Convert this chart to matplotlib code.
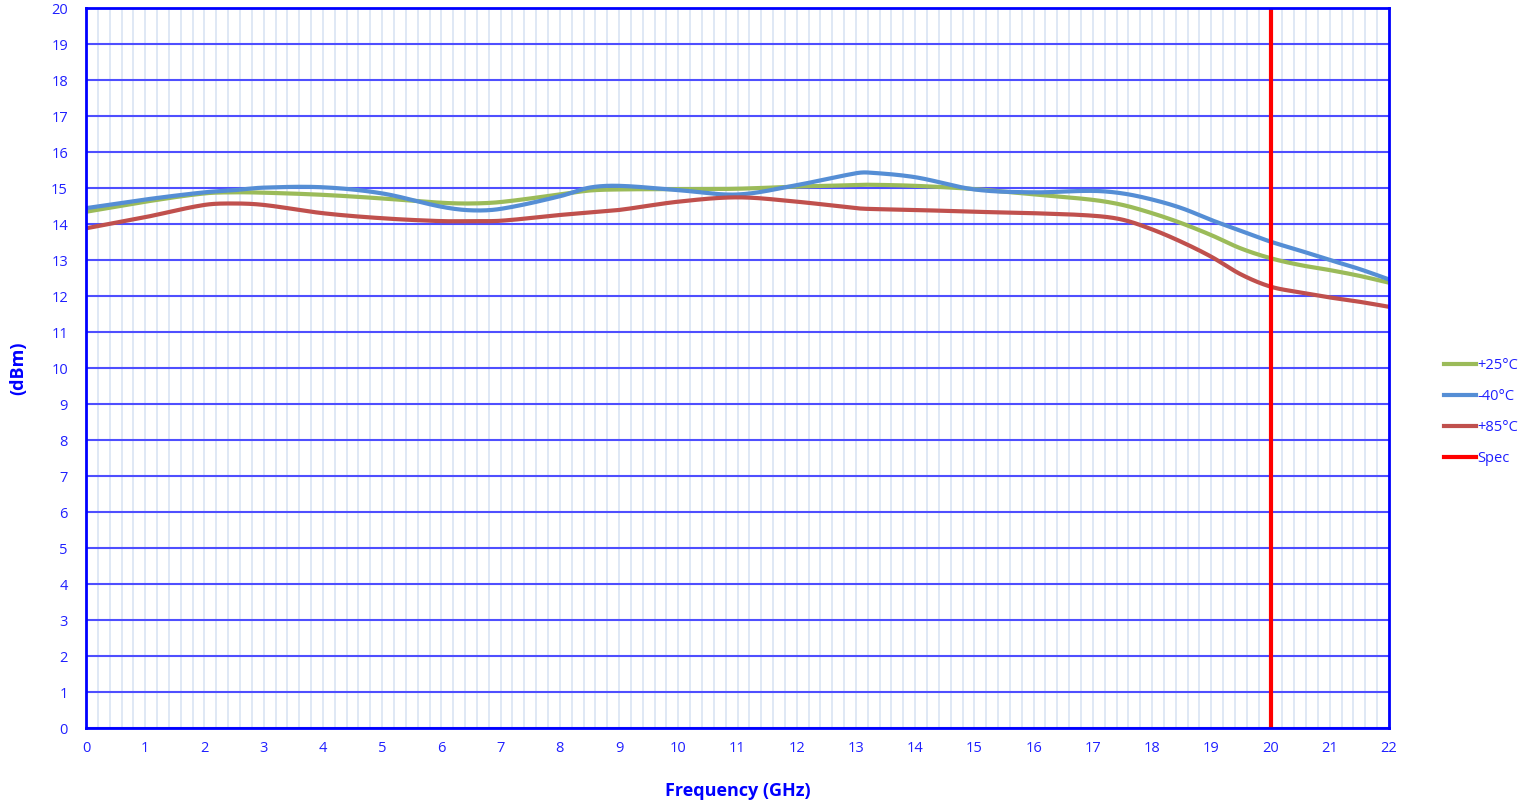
import numpy as np
import matplotlib
matplotlib.use("Agg")
import matplotlib.pyplot as plt
from matplotlib.lines import Line2D

freq = [0, 1, 2, 2.5, 3, 4, 5, 6, 6.5, 7, 8, 8.5, 9, 10, 11, 12, 13, 13.2, 14, 15, 16, 17, 17.5, 18, 18.5, 19, 19.5, 20, 20.5, 21, 21.5, 22]
p25 = [14.34, 14.62, 14.85, 14.88, 14.87, 14.81, 14.71, 14.59, 14.57, 14.61, 14.82, 14.93, 14.96, 14.97, 14.98, 15.04, 15.08, 15.09, 15.06, 14.97, 14.82, 14.67, 14.53, 14.30, 14.02, 13.69, 13.32, 13.05, 12.86, 12.72, 12.56, 12.37]
m40 = [14.44, 14.68, 14.88, 14.94, 15.01, 15.02, 14.85, 14.48, 14.38, 14.42, 14.77, 15.01, 15.06, 14.94, 14.82, 15.08, 15.41, 15.43, 15.30, 14.96, 14.88, 14.92, 14.85, 14.68, 14.44, 14.11, 13.81, 13.51, 13.26, 13.00, 12.75, 12.46]
p85 = [13.88, 14.19, 14.53, 14.57, 14.53, 14.30, 14.16, 14.08, 14.08, 14.09, 14.25, 14.32, 14.39, 14.62, 14.74, 14.62, 14.44, 14.42, 14.39, 14.34, 14.30, 14.23, 14.12, 13.85, 13.50, 13.09, 12.60, 12.26, 12.10, 11.96, 11.84, 11.70]
spec_freq = 20
series_names = ["+25°C", "-40°C", "+85°C", "Spec"]
colors = ["#9bbb59", "#558ed5", "#c0504d", "#ff0000"]


def smooth(x, y, n=25):
    """Cubic Hermite rendering of a smoothed line through the data points."""
    x = np.asarray(x, float); y = np.asarray(y, float)
    m = np.zeros_like(y)
    m[1:-1] = (y[2:] - y[:-2]) / (x[2:] - x[:-2])
    m[0] = (y[1] - y[0]) / (x[1] - x[0])
    m[-1] = (y[-1] - y[-2]) / (x[-1] - x[-2])
    xs, ys = [], []
    for i in range(len(x) - 1):
        h = x[i + 1] - x[i]
        t = np.linspace(0, 1, n, endpoint=False)
        h00 = 2 * t**3 - 3 * t**2 + 1
        h10 = t**3 - 2 * t**2 + t
        h01 = -2 * t**3 + 3 * t**2
        h11 = t**3 - t**2
        xs.append(x[i] + t * h)
        ys.append(h00 * y[i] + h10 * h * m[i] + h01 * y[i + 1] + h11 * h * m[i + 1])
    xs.append([x[-1]]); ys.append([y[-1]])
    return np.concatenate(xs), np.concatenate(ys)


plt.rcParams['font.family'] = ['Open Sans', 'DejaVu Sans']
fig = plt.figure(figsize=(15.33, 8.07), dpi=100)
ax = fig.add_axes([86 / 1533, 1 - 728 / 807, (1389 - 86) / 1533, 720 / 807])

ax.set_xlim(0, 22)
ax.set_ylim(0, 20)
ax.set_xticks(np.arange(0, 23, 1))
ax.set_yticks(np.arange(0, 21, 1))
ax.set_xticks(np.arange(0, 22.01, 0.2), minor=True)
ax.grid(which='minor', axis='x', color='#d9e4f4', lw=1.2)
ax.grid(which='major', axis='x', color='#d9e4f4', lw=1.2)
ax.grid(which='major', axis='y', color='#4f4fff', lw=1.5)
ax.set_axisbelow(True)
ax.tick_params(which='both', length=0, colors='#2020ff', labelsize=10.5)
ax.tick_params(axis='x', pad=9)
ax.tick_params(axis='y', pad=13)
for lab in ax.get_xticklabels() + ax.get_yticklabels():
    lab.set_color('#2020ff')
for s in ax.spines.values():
    s.set_color('#0000ff')
    s.set_linewidth(2)

data = [p25, m40, p85]
for vals, c in zip(data, colors[:3]):
    xs, ys = smooth(freq, vals)
    ax.plot(xs, ys, color=c, lw=3, solid_capstyle='round')
ax.axvline(spec_freq, color=colors[3], lw=3)

ax.set_xlabel("Frequency (GHz)", fontsize=13, fontweight='bold', color='#0000ff', labelpad=19)
ax.set_ylabel("(dBm)", fontsize=13, fontweight='bold', color='#0000ff', labelpad=17)

handles = [Line2D([0], [0], color=c, lw=3) for c in colors]
fig.legend(handles, series_names, loc='center left', bbox_to_anchor=(1431 / 1533, 1 - 412 / 807),
           frameon=False, fontsize=10.5, labelcolor='#2020ff', handlelength=2.2, handletextpad=0.1,
           labelspacing=1.08)

fig.savefig("out.png", dpi=100)
